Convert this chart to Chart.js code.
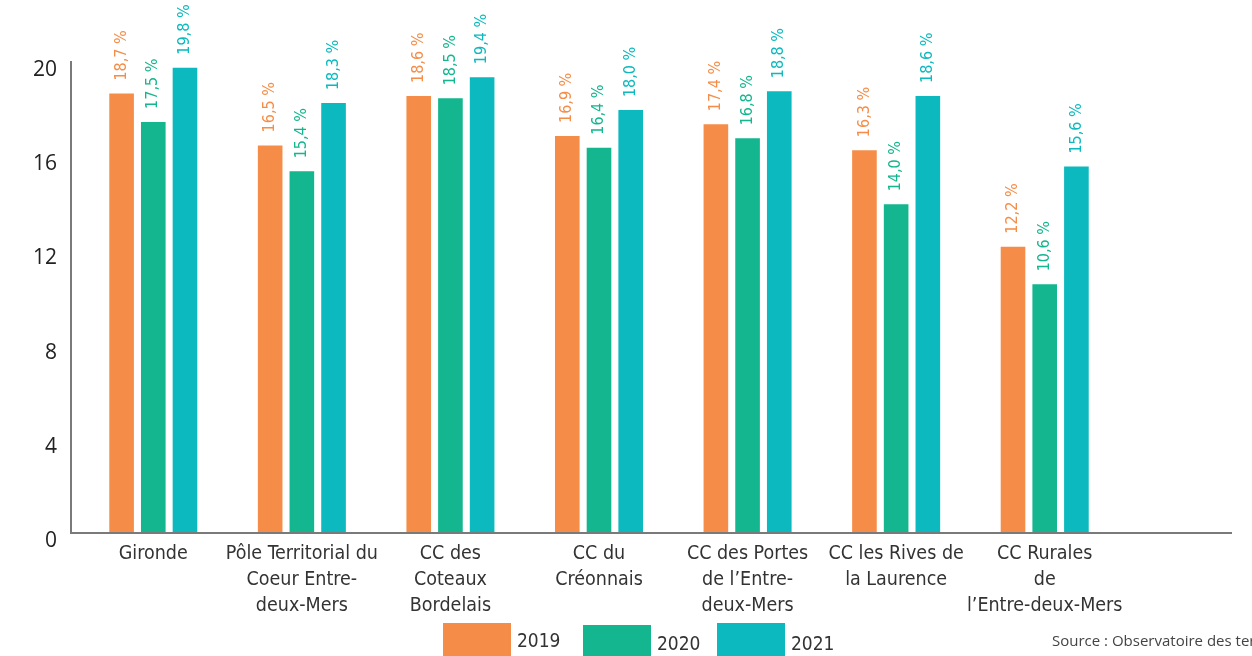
<!DOCTYPE html>
<html>
<head>
<meta charset="utf-8">
<script src="https://cdn.jsdelivr.net/npm/chart.js@4.4.1/dist/chart.umd.min.js"></script>
<style>
  html, body { margin: 0; padding: 0; background: #fff; overflow: hidden; }
  #wrap { width: 1252px; height: 656px; position: relative; }
</style>
</head>
<body>
<div id="wrap"><canvas id="myChart" width="1252" height="656"></canvas></div>
<script>
// categories (multi-line labels as in the original)
const categories = [
    ["Gironde"],
    ["Pôle Territorial du", "Coeur Entre-", "deux-Mers"],
    ["CC des", "Coteaux", "Bordelais"],
    ["CC du", "Créonnais"],
    ["CC des Portes", "de l’Entre-", "deux-Mers"],
    ["CC les Rives de", "la Laurence"],
    ["CC Rurales", "de", "l’Entre-deux-Mers"]
];
const years = ["2019", "2020", "2021"];
const values2019 = [18.7, 16.5, 18.6, 16.9, 17.4, 16.3, 12.2];
const values2020 = [17.5, 15.4, 18.5, 16.4, 16.8, 14.0, 10.6];
const values2021 = [19.8, 18.3, 19.4, 18.0, 18.8, 18.6, 15.6];
const yTicks = [0, 4, 8, 12, 16, 20];
const sourceText = "Source : Observatoire des territoires";

const colors = ["#F58D48", "#13B68E", "#0BB9BE"];
const narrow = "'Liberation Sans Narrow', 'DejaVu Sans Condensed', sans-serif";

// rotated value labels above the bars
const valueLabels = {
    id: 'valueLabels',
    afterDatasetsDraw(chart) {
        const ctx = chart.ctx;
        chart.data.datasets.forEach((ds, i) => {
            chart.getDatasetMeta(i).data.forEach((bar, j) => {
                let txt = ds.data[j].toFixed(1).replace('.', ',') + ' %';
                ctx.save();
                ctx.translate(bar.x, bar.y - 12);
                ctx.rotate(-Math.PI / 2);
                ctx.font = "16px " + narrow;
                ctx.fillStyle = colors[i];
                ctx.textAlign = 'left';
                ctx.textBaseline = 'middle';
                ctx.fillText(txt, 0, 0);
                ctx.restore();
            });
        });
    }
};

// axis lines (y line sits a bit left of the plot, x line runs on past the last group)
const axisLines = {
    id: 'axisLines',
    afterDraw(chart) {
        const ctx = chart.ctx, a = chart.chartArea;
        ctx.save();
        ctx.strokeStyle = '#7a7a7a';
        ctx.lineWidth = 2;
        ctx.beginPath();
        ctx.moveTo(a.left - 8, a.top - 1);
        ctx.lineTo(a.left - 8, a.bottom);
        ctx.lineTo(chart.width - 20, a.bottom);
        ctx.stroke();
        ctx.restore();
    }
};

// legend with big boxes + source note
const bottomLegend = {
    id: 'bottomLegend',
    afterDraw(chart) {
        const ctx = chart.ctx;
        const boxX = [443, 583, 717];
        const boxY = [623, 625, 623];
        const txtY = [642, 645, 645];
        ctx.save();
        chart.data.datasets.forEach((ds, i) => {
            ctx.fillStyle = colors[i];
            ctx.fillRect(boxX[i], boxY[i], 68, 40);
            ctx.fillStyle = '#333';
            ctx.font = "19px " + narrow;
            ctx.textAlign = 'left';
            ctx.textBaseline = 'middle';
            ctx.fillText(ds.label, boxX[i] + 74, txtY[i]);
        });
        ctx.font = "15px 'Open Sans', sans-serif";
        ctx.fillStyle = '#444';
        ctx.fillText(sourceText, 1052, 642);
        ctx.restore();
    }
};

const ctx = document.getElementById("myChart");

const data = {
    labels: categories,
    datasets: [values2019, values2020, values2021].map((vals, i) => ({
        label: years[i],
        data: vals,
        backgroundColor: colors[i],
        borderColor: 'rgba(255,255,255,0.35)',
        borderWidth: 1,
        categoryPercentage: 0.64,
        barPercentage: 0.84
    }))
};

const myBarChart = new Chart(ctx, {
    type: 'bar',
    data: data,
    options: {
        responsive: false,
        animation: false,
        layout: { padding: { left: 0, right: 133, top: 62, bottom: 0 } },
        plugins: {
            legend: { display: false },
            tooltip: { enabled: false }
        },
        scales: {
            x: {
                grid: { display: false, drawTicks: false },
                border: { display: false },
                ticks: {
                    color: '#333',
                    font: { family: narrow, size: 19.5, lineHeight: 1.33 },
                    padding: 8,
                    maxRotation: 0,
                    autoSkip: false
                },
                afterFit(scale) { scale.height = 123; }
            },
            y: {
                min: 0,
                max: 20,
                afterBuildTicks(scale) { scale.ticks = yTicks.map(v => ({ value: v })); },
                grid: { display: false, drawTicks: false },
                border: { display: false },
                ticks: {
                    color: '#222',
                    font: { family: "'Open Sans', sans-serif", size: 21 },
                    padding: 22,
                    labelOffset: 8
                },
                afterFit(scale) { scale.width = 79; }
            }
        }
    },
    plugins: [valueLabels, axisLines, bottomLegend]
});
</script>
</body>
</html>
